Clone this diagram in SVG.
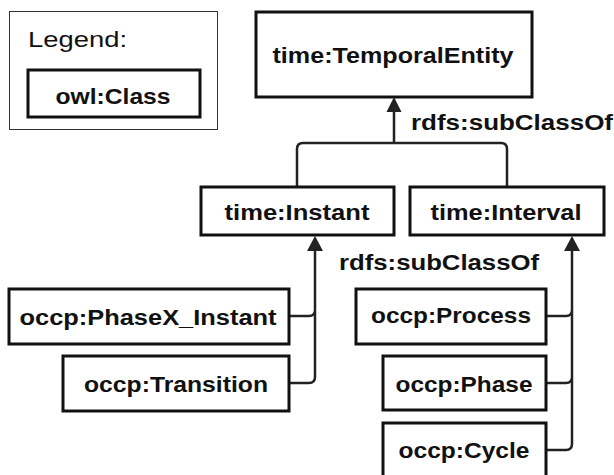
<svg xmlns="http://www.w3.org/2000/svg" width="614" height="475" viewBox="0 0 614 475">
<defs>
<style>
.box{fill:#fff;stroke:#111;stroke-width:3}
.t{font-family:"Liberation Sans",Arial,sans-serif;font-weight:bold;font-size:22px;fill:#111;text-anchor:middle}
.lbl{font-family:"Liberation Sans",Arial,sans-serif;font-weight:bold;font-size:22px;fill:#111}
.c{fill:none;stroke:#222;stroke-width:2.5;stroke-linejoin:round}
.ah{fill:#222}
</style>
</defs>
<rect width="614" height="475" fill="#fff"/>
<g id="legend">
<rect x="9.5" y="11.5" width="208" height="118" fill="#fff" stroke="#333" stroke-width="1"/>
<text x="28" y="47" font-family="Liberation Sans,Arial,sans-serif" font-size="22" fill="#111" textLength="99" lengthAdjust="spacingAndGlyphs">Legend:</text>
<rect class="box" x="28" y="70" width="172" height="47"/>
<text class="t" x="113" y="104" textLength="115" lengthAdjust="spacingAndGlyphs">owl:Class</text>
</g>
<g id="connectors">
<path class="c" d="M394 111 V143 M297 186 V149 Q297 143 303 143 H501 Q507 143 507 149 V186"/>
<polygon class="ah" points="394,97 386.5,112 401.5,112"/>
<path class="c" d="M315 250 V377 Q315 383 309 383 H289 M289 316 H309 Q315 316 315 310"/>
<polygon class="ah" points="315,236 307,251 323,251"/>
<path class="c" d="M572 250 V444 Q572 450 566 450 H546 M546 316 H566 Q572 316 572 310 M546 383 H566 Q572 383 572 377"/>
<polygon class="ah" points="572,236 564,251 580,251"/>
<text class="lbl" x="411" y="130" textLength="202" lengthAdjust="spacingAndGlyphs">rdfs:subClassOf</text>
<text class="lbl" x="339" y="270" textLength="200" lengthAdjust="spacingAndGlyphs">rdfs:subClassOf</text>
</g>
<g id="TemporalEntity">
<rect class="box" x="256" y="12" width="276" height="85"/>
<text class="t" x="393" y="63" textLength="241" lengthAdjust="spacingAndGlyphs">time:TemporalEntity</text>
</g>
<g id="Instant">
<rect class="box" x="201" y="187" width="193" height="48"/>
<text class="t" x="297" y="220" textLength="145" lengthAdjust="spacingAndGlyphs">time:Instant</text>
</g>
<g id="Interval">
<rect class="box" x="410" y="187" width="194" height="48"/>
<text class="t" x="506" y="220" textLength="151" lengthAdjust="spacingAndGlyphs">time:Interval</text>
</g>
<g id="PhaseX_Instant">
<rect class="box" x="9" y="289" width="280" height="55"/>
<text class="t" x="148" y="325" textLength="257" lengthAdjust="spacingAndGlyphs">occp:PhaseX_Instant</text>
</g>
<g id="Transition">
<rect class="box" x="63" y="356" width="226" height="55"/>
<text class="t" x="176" y="392" textLength="184" lengthAdjust="spacingAndGlyphs">occp:Transition</text>
</g>
<g id="Process">
<rect class="box" x="356" y="289" width="190" height="55"/>
<text class="t" x="451" y="323" textLength="160" lengthAdjust="spacingAndGlyphs">occp:Process</text>
</g>
<g id="Phase">
<rect class="box" x="383" y="356" width="163" height="54"/>
<text class="t" x="464" y="392" textLength="137" lengthAdjust="spacingAndGlyphs">occp:Phase</text>
</g>
<g id="Cycle">
<rect class="box" x="383" y="423" width="163" height="60"/>
<text class="t" x="464" y="458" textLength="131" lengthAdjust="spacingAndGlyphs">occp:Cycle</text>
</g>
</svg>
